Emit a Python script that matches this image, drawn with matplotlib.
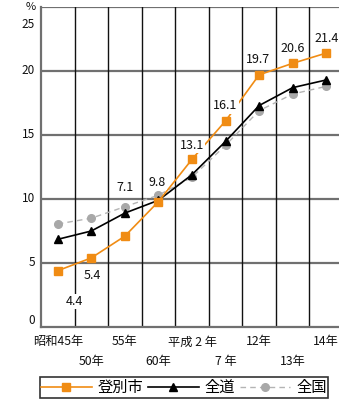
import matplotlib
matplotlib.use("Agg")
import matplotlib.pyplot as plt

plt.rcParams['font.family'] = ['Noto Sans CJK JP', 'DejaVu Sans']

# 年次ごとの値 (%)
years_top = ['昭和45年', '', '55年', '', '平成 2 年', '', '12年', '', '14年']
years_bottom = ['', '50年', '', '60年', '', '7 年', '', '13年', '']
noboribetsu = [4.4, 5.4, 7.1, 9.8, 13.1, 16.1, 19.7, 20.6, 21.4]
hokkaido = [6.85, 7.5, 8.9, 9.9, 11.9, 14.5, 17.3, 18.7, 19.3]
zenkoku = [8.05, 8.5, 9.4, 10.3, 11.7, 14.2, 16.9, 18.2, 18.8]
y_ticks = [0, 5, 10, 15, 20, 25]

# ラベル位置のずらし量 (px, 上が正)
label_dx = [16.5, 1, 0, -1, 0, 0, -1, 0, 0]
label_dy = [-31, -18, 49, 19, 14, 15, 15, 15, 15]

W, H = 339, 404
fig = plt.figure(figsize=(W / 100, H / 100), dpi=100)
ax = fig.add_axes([41 / W, 77 / H, 302 / W, 320 / H])
ax.set_xlim(0, 9)
ax.set_ylim(0, 25)

PX = 0.72  # px -> pt
gray = '#707070'
orange = '#f08c14'
ink = '#111111'

# 罫線
for v in y_ticks[1:]:
    ax.axhline(v, color=gray, lw=1.6, zorder=1)
for i in range(1, 9):
    ax.axvline(i, color=ink, lw=1.0, zorder=1)
for s in ['top', 'right']:
    ax.spines[s].set_visible(False)
for s in ['left', 'bottom']:
    ax.spines[s].set_color(gray)
    ax.spines[s].set_linewidth(1.6)
ax.set_xticks([])
ax.set_yticks([])

xs = [i + 0.5 for i in range(len(noboribetsu))]

ax.plot(xs, zenkoku, color='#b4b4b4', lw=1.0, ls=(0, (4, 3)), marker='o',
        markersize=5.5, markerfacecolor='#a8a8a8', markeredgecolor='#a8a8a8',
        label='全国', zorder=3, clip_on=False)
ax.plot(xs, hokkaido, color='black', lw=1.2, marker='^', markersize=5.5,
        label='全道', zorder=4, clip_on=False)
ax.plot(xs, noboribetsu, color=orange, lw=1.2, marker='s', markersize=5.2,
        label='登別市', zorder=5, clip_on=False)

# 登別市の値ラベル
for x, v, dx, dy in zip(xs, noboribetsu, label_dx, label_dy):
    ax.annotate(f'{v}', xy=(x, v), xytext=(dx * PX, dy * PX),
                textcoords='offset points', ha='center', va='center',
                fontsize=9, color=ink, zorder=6,
                bbox=dict(boxstyle='square,pad=0.1', fc='white', ec='none'))

# 縦軸目盛
y_shift = {0: 7, 25: -18}
for v in y_ticks:
    ax.annotate(str(v), xy=(0, v), xycoords=('axes fraction', 'data'),
                xytext=(-6 * PX, y_shift.get(v, 0) * PX),
                textcoords='offset points', ha='right', va='center',
                fontsize=8.5, color=ink)
ax.annotate('%', xy=(0, 25), xycoords=('axes fraction', 'data'),
            xytext=(-5 * PX, 0), textcoords='offset points',
            ha='right', va='center', fontsize=8, color=ink)

# 横軸目盛 (2段)
for x, t1, t2 in zip(xs, years_top, years_bottom):
    if t1:
        ax.annotate(t1, xy=(x, 0), xycoords=('data', 'axes fraction'),
                    xytext=(0, -15 * PX), textcoords='offset points',
                    ha='center', va='center', fontsize=8.8, color=ink)
    if t2:
        ax.annotate(t2, xy=(x, 0), xycoords=('data', 'axes fraction'),
                    xytext=(0, -34 * PX), textcoords='offset points',
                    ha='center', va='center', fontsize=8.8, color=ink)

handles, labels = ax.get_legend_handles_labels()
order = [2, 1, 0]
leg = fig.legend([handles[i] for i in order], [labels[i] for i in order],
                 loc='center', bbox_to_anchor=(184 / W, 16.5 / H), ncol=3,
                 frameon=True, fancybox=False, fontsize=11,
                 handlelength=3.3, handletextpad=0.4, columnspacing=0.3,
                 borderpad=0.1, borderaxespad=0, labelspacing=0.2)
leg.get_frame().set_edgecolor('black')
leg.get_frame().set_linewidth(1.2)

fig.savefig('out.png', dpi=100)
